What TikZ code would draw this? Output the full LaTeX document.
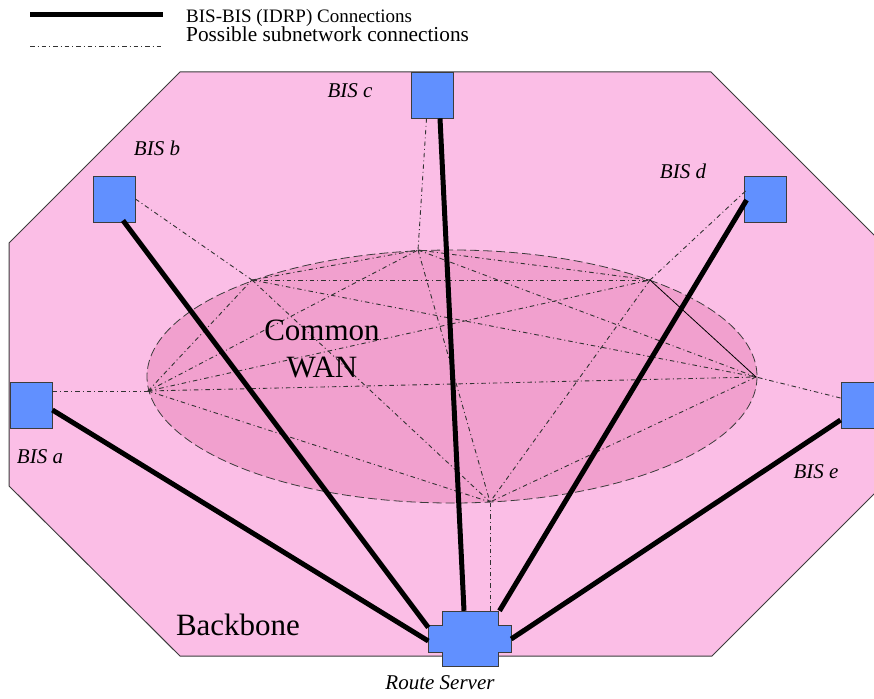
\documentclass[tikz,border=0pt]{standalone}
\usepackage{fontspec}
\setmainfont{Liberation Serif}
\usetikzlibrary{calc}

\definecolor{backbonepink}{RGB}{251,190,230}
\definecolor{wanpink}{RGB}{241,160,206}
\definecolor{bisblue}{RGB}{97,144,255}
\definecolor{edgegray}{RGB}{60,60,60}
\definecolor{meshgray}{RGB}{50,50,50}

\tikzset{
  bisbox/.style={draw=edgegray, line width=0.9pt, fill=bisblue,
    minimum width=42pt, minimum height=46pt, inner sep=0pt},
  idrp/.style={line width=5pt, line cap=butt, black},
  subnet/.style={line width=0.9pt, meshgray,
    dash pattern=on 4.5pt off 3pt on 1pt off 3pt},
  hubline/.style={line width=0.8pt, black},
  bislabel/.style={font=\fontsize{21}{25}\selectfont\itshape, inner sep=0pt, anchor=base},
  legendtext/.style={inner sep=0pt, anchor=base west},
  bigtext/.style={font=\fontsize{31}{37}\selectfont, inner sep=0pt, anchor=base}
}

\begin{document}
\begin{tikzpicture}[x=1pt, y=-1pt]
\useasboundingbox (0,0) rectangle (874,698);

% legend
\coordinate (la1) at (30,15);  \coordinate (la2) at (163,15);
\coordinate (lb1) at (30,46);  \coordinate (lb2) at (163,46);
\draw[idrp] (la1) -- (la2);
\draw[subnet] (lb1) -- (lb2);
\node[legendtext, font=\fontsize{19}{23}\selectfont] (legA) at (186,23) {BIS-BIS (IDRP) Connections};
\node[legendtext, font=\fontsize{21.3}{25}\selectfont] (legB) at (186,42) {Possible subnetwork connections};

% backbone octagon
\draw[fill=backbonepink, draw=edgegray, line width=1pt]
  (180,72) -- (711,72) -- (882,243) -- (882,486) -- (712,656)
  -- (180,656) -- (9,486) -- (9,243) -- cycle;

% common WAN
\draw[fill=wanpink, draw=edgegray, line width=0.8pt, dash pattern=on 9pt off 4pt]
  (452,376.5) ellipse [x radius=305, y radius=126.5];

% attachment points on the WAN
\coordinate (hL)  at (148,391);
\coordinate (hTL) at (252,280);
\coordinate (hT)  at (418,250);
\coordinate (hTR) at (650,280);
\coordinate (hR)  at (756,377);
\coordinate (hB)  at (490,502);

% full mesh across the WAN
\foreach \p/\q in {hL/hTL, hL/hT, hL/hTR, hL/hR, hL/hB,
                   hTL/hT, hTL/hTR, hTL/hR, hTL/hB,
                   hT/hTR, hT/hR, hT/hB,
                   hTR/hB, hR/hB}
  \draw[subnet] (\p) -- (\q);
\draw[hubline] (hTR) -- (hR);

\node[bigtext] (common) at (322,340) {Common};
\node[bigtext] (wan) at (322,377) {WAN};
\node[bigtext] (backbone) at (238,635) {Backbone};

% border intermediate systems
\node[bisbox] (a) at (31,405) {};
\node[bisbox] (b) at (114,199) {};
\node[bisbox] (c) at (432.5,95) {};
\node[bisbox] (d) at (765,199) {};
\node[bisbox] (e) at (862,405) {};

% route server (cross shape)
\node[minimum width=83pt, minimum height=55pt, inner sep=0pt] (rs) at (469.5,638.5) {};
\draw[draw=edgegray, line width=0.9pt, fill=bisblue]
  ($(rs.center)+(-27.5,-27.5)$) -- ($(rs.center)+(28.5,-27.5)$)
  -- ($(rs.center)+(28.5,-13.5)$) -- ($(rs.center)+(41.5,-13.5)$)
  -- ($(rs.center)+(41.5,13.5)$) -- ($(rs.center)+(28.5,13.5)$)
  -- ($(rs.center)+(28.5,27.5)$) -- ($(rs.center)+(-27.5,27.5)$)
  -- ($(rs.center)+(-27.5,13.5)$) -- ($(rs.center)+(-41.5,13.5)$)
  -- ($(rs.center)+(-41.5,-13.5)$) -- ($(rs.center)+(-27.5,-13.5)$) -- cycle;

% labels
\node[bislabel] (la) at (40,463) {BIS a};
\node[bislabel] (lb) at (157,155) {BIS b};
\node[bislabel] (lc) at (350,98) {BIS c};
\node[bislabel] (ld) at (683,178) {BIS d};
\node[bislabel] (le) at (816,478) {BIS e};
\node[bislabel] (lrs) at (440,689) {Route Server};

% subnetwork access from each system
\draw[subnet] ($(a.east)+(0,-14)$) -- (hL);
\draw[subnet] (b.east) -- (hTL);
\draw[subnet] ($(c.south)+(-6,0)$) -- (hT);
\draw[subnet] ($(d.west)+(2,-8)$) -- (hTR);
\draw[subnet] ($(e.west)+(0,-7)$) -- (hR);
\draw[subnet] ($(rs.north)+(20.5,0)$) -- (hB);

% IDRP sessions with the route server
\draw[idrp] ($(a.east)+(0,5)$) -- ($(rs.west)+(0.5,2.5)$);
\draw[idrp] ($(b.south)+(9,-2)$) -- ($(rs.west)+(0.5,-11)$);
\draw[idrp] ($(c.south)+(7.5,0)$) -- ($(rs.north)+(-5.5,0)$);
\draw[idrp] ($(d.west)+(3,1)$) -- ($(rs.north)+(30,0)$);
\draw[idrp] ($(e.west)+(0,15)$) -- ($(rs.east)+(0,0.5)$);
\end{tikzpicture}
\end{document}
